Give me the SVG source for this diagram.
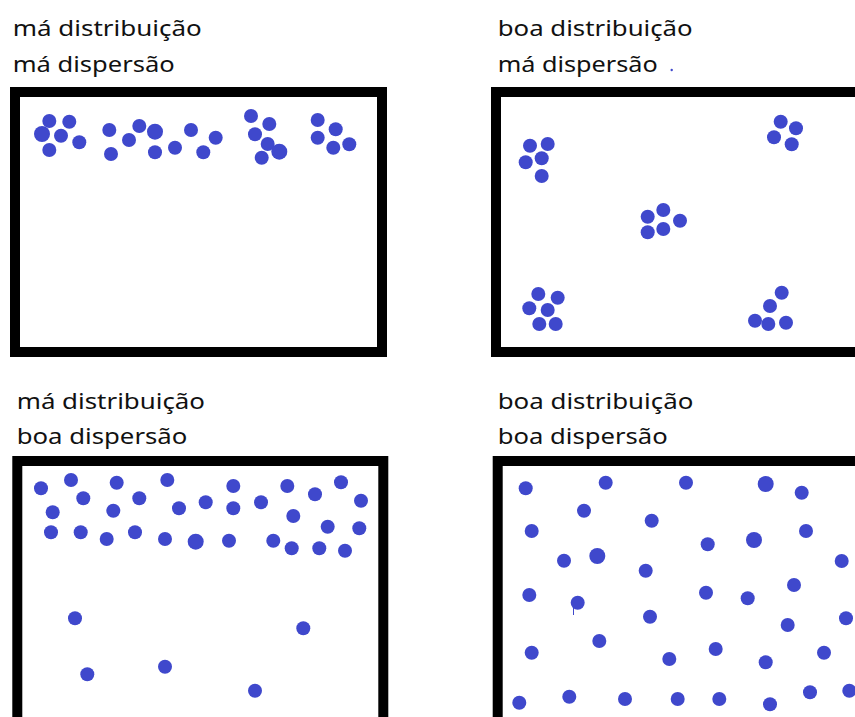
<svg xmlns="http://www.w3.org/2000/svg" width="855" height="717" viewBox="0 0 855 717">
<style>
.lbl{font-family:"Noto Sans","Open Sans",sans-serif;font-size:22px;fill:#111}
.frame{fill:#fff;stroke:#000;stroke-width:10}
.d{fill:#3f48cc}
</style>
<rect x="0" y="0" width="855" height="717" fill="#fff"/>
<g id="panel1">
<text class="lbl" x="12.7" y="36" textLength="189" lengthAdjust="spacingAndGlyphs">má distribuição</text>
<text class="lbl" x="12.7" y="72" textLength="162" lengthAdjust="spacingAndGlyphs">má dispersão</text>
<rect class="frame" x="15" y="92" width="367" height="260"/>
<g class="d">
<circle cx="49.3" cy="121" r="7"/><circle cx="69.3" cy="121.7" r="7"/><circle cx="42" cy="134" r="8"/><circle cx="61" cy="135.7" r="7"/><circle cx="79.3" cy="142.3" r="7"/><circle cx="49.3" cy="150" r="7"/>
<circle cx="109.3" cy="130" r="7"/><circle cx="139.3" cy="126" r="7"/><circle cx="155" cy="131.7" r="8"/><circle cx="129" cy="140" r="7"/><circle cx="111" cy="154" r="7"/><circle cx="155" cy="152.3" r="7"/><circle cx="175" cy="147.7" r="7"/><circle cx="191" cy="130" r="7"/><circle cx="215.7" cy="137.7" r="7"/><circle cx="203.3" cy="152.3" r="7"/>
<circle cx="251" cy="116" r="7"/><circle cx="269.3" cy="124" r="7"/><circle cx="255" cy="134.3" r="7"/><circle cx="267.7" cy="144" r="7"/><circle cx="279.3" cy="151.7" r="8"/><circle cx="261.7" cy="157.7" r="7"/>
<circle cx="317.7" cy="120" r="7"/><circle cx="335.7" cy="129.3" r="7"/><circle cx="317.7" cy="137.7" r="7"/><circle cx="333.3" cy="147.7" r="7"/><circle cx="349.3" cy="144.3" r="7"/>
</g>
</g>
<g id="panel2">
<text class="lbl" x="497.7" y="36" textLength="195" lengthAdjust="spacingAndGlyphs">boa distribuição</text>
<text class="lbl" x="497.7" y="72" textLength="160" lengthAdjust="spacingAndGlyphs">má dispersão</text>
<circle class="d" cx="671.7" cy="70" r="1.2"/>
<rect class="frame" x="496" y="92" width="380" height="260"/>
<g class="d">
<circle cx="530" cy="145.7" r="7"/><circle cx="547.7" cy="144" r="7"/><circle cx="525.7" cy="162.3" r="7"/><circle cx="541.7" cy="158.3" r="7"/><circle cx="541.7" cy="176" r="7"/>
<circle cx="780.7" cy="121.7" r="7"/><circle cx="796" cy="128.3" r="7"/><circle cx="774" cy="137.3" r="7"/><circle cx="791.7" cy="144.3" r="7"/>
<circle cx="663.3" cy="210" r="7"/><circle cx="647.7" cy="216.7" r="7"/><circle cx="680" cy="220.7" r="7"/><circle cx="647.7" cy="232.3" r="7"/><circle cx="663.3" cy="229" r="7"/>
<circle cx="538.3" cy="294" r="7"/><circle cx="557.7" cy="297.7" r="7"/><circle cx="529.3" cy="308.3" r="7"/><circle cx="547.7" cy="310" r="7"/><circle cx="539.3" cy="324" r="7"/><circle cx="555.7" cy="324" r="7"/>
<circle cx="781.7" cy="292.7" r="7"/><circle cx="770" cy="306" r="7"/><circle cx="755" cy="320.7" r="7"/><circle cx="768.3" cy="324" r="7"/><circle cx="786" cy="322.7" r="7"/>
</g>
</g>
<g id="panel3">
<text class="lbl" x="16.7" y="409.3" textLength="188.3" lengthAdjust="spacingAndGlyphs">má distribuição</text>
<text class="lbl" x="16.7" y="444.3" textLength="170.7" lengthAdjust="spacingAndGlyphs">boa dispersão</text>
<rect class="frame" x="17.3" y="461" width="366" height="280"/>
<g class="d">
<circle cx="41" cy="488.3" r="7"/><circle cx="71" cy="480" r="7"/><circle cx="116.7" cy="482.7" r="7"/><circle cx="167.3" cy="480" r="7"/><circle cx="233.3" cy="486" r="7"/><circle cx="287.3" cy="486" r="7"/><circle cx="341" cy="482.3" r="7"/>
<circle cx="83.3" cy="498.3" r="7"/><circle cx="139.3" cy="498.3" r="7"/><circle cx="179" cy="508.3" r="7"/><circle cx="205.7" cy="502.3" r="7"/><circle cx="233.3" cy="508.3" r="7"/><circle cx="261" cy="502.3" r="7"/><circle cx="315" cy="494.3" r="7"/><circle cx="361" cy="500.7" r="7"/>
<circle cx="52.7" cy="512.3" r="7"/><circle cx="113.3" cy="510.7" r="7"/><circle cx="293.3" cy="516" r="7"/>
<circle cx="51" cy="532.3" r="7"/><circle cx="80.7" cy="532.3" r="7"/><circle cx="106.7" cy="539" r="7"/><circle cx="135" cy="532.3" r="7"/><circle cx="165" cy="539" r="7"/><circle cx="195.7" cy="541.7" r="8"/><circle cx="229" cy="540.7" r="7"/><circle cx="273.3" cy="540.7" r="7"/><circle cx="291.7" cy="548.3" r="7"/><circle cx="319.3" cy="548.3" r="7"/><circle cx="345" cy="550.7" r="7"/><circle cx="327.7" cy="526.7" r="7"/><circle cx="359.3" cy="528.3" r="7"/>
<circle cx="75" cy="618.3" r="7"/><circle cx="303.3" cy="628.3" r="7"/><circle cx="87.3" cy="674.3" r="7"/><circle cx="165" cy="666.7" r="7"/><circle cx="255" cy="690.7" r="7"/>
</g>
</g>
<g id="panel4">
<text class="lbl" x="497.7" y="409.3" textLength="195.7" lengthAdjust="spacingAndGlyphs">boa distribuição</text>
<text class="lbl" x="497.7" y="444.3" textLength="170" lengthAdjust="spacingAndGlyphs">boa dispersão</text>
<rect class="frame" x="497.7" y="461" width="380" height="280"/>
<g class="d">
<circle cx="525.7" cy="488.3" r="7"/><circle cx="605.7" cy="482.7" r="7"/><circle cx="686" cy="482.7" r="7"/><circle cx="765.7" cy="484" r="8"/><circle cx="801.7" cy="492.7" r="7"/>
<circle cx="584" cy="510.7" r="7"/><circle cx="651.7" cy="520.7" r="7"/><circle cx="531.7" cy="531" r="7"/><circle cx="806" cy="531" r="7"/><circle cx="707.7" cy="544.3" r="7"/><circle cx="754" cy="540" r="8"/>
<circle cx="564" cy="560.7" r="7"/><circle cx="597.3" cy="556" r="8"/><circle cx="645.7" cy="570.7" r="7"/><circle cx="841.7" cy="561" r="7"/>
<circle cx="529.3" cy="595" r="7"/><circle cx="577.7" cy="602.7" r="7"/><circle cx="706" cy="592.7" r="7"/><circle cx="747.7" cy="598.3" r="7"/><circle cx="794" cy="585" r="7"/>
<circle cx="650" cy="616.7" r="7"/><circle cx="787.7" cy="625" r="7"/><circle cx="846" cy="618.3" r="7"/>
<circle cx="599.3" cy="641" r="7"/><circle cx="531.7" cy="652.7" r="7"/><circle cx="669.3" cy="659" r="7"/><circle cx="715.7" cy="649" r="7"/><circle cx="765.7" cy="662.3" r="7"/><circle cx="824" cy="652.7" r="7"/>
<circle cx="519.3" cy="702.7" r="7"/><circle cx="569.3" cy="696.7" r="7"/><circle cx="625" cy="699" r="7"/><circle cx="677.7" cy="699" r="7"/><circle cx="719.3" cy="699" r="7"/><circle cx="770" cy="704.3" r="7"/><circle cx="810" cy="692.3" r="7"/><circle cx="849.3" cy="690.7" r="7"/>
</g>
<line x1="573.5" y1="606" x2="573.5" y2="615" stroke="#3f48cc" stroke-width="1"/>
</g>
</svg>
